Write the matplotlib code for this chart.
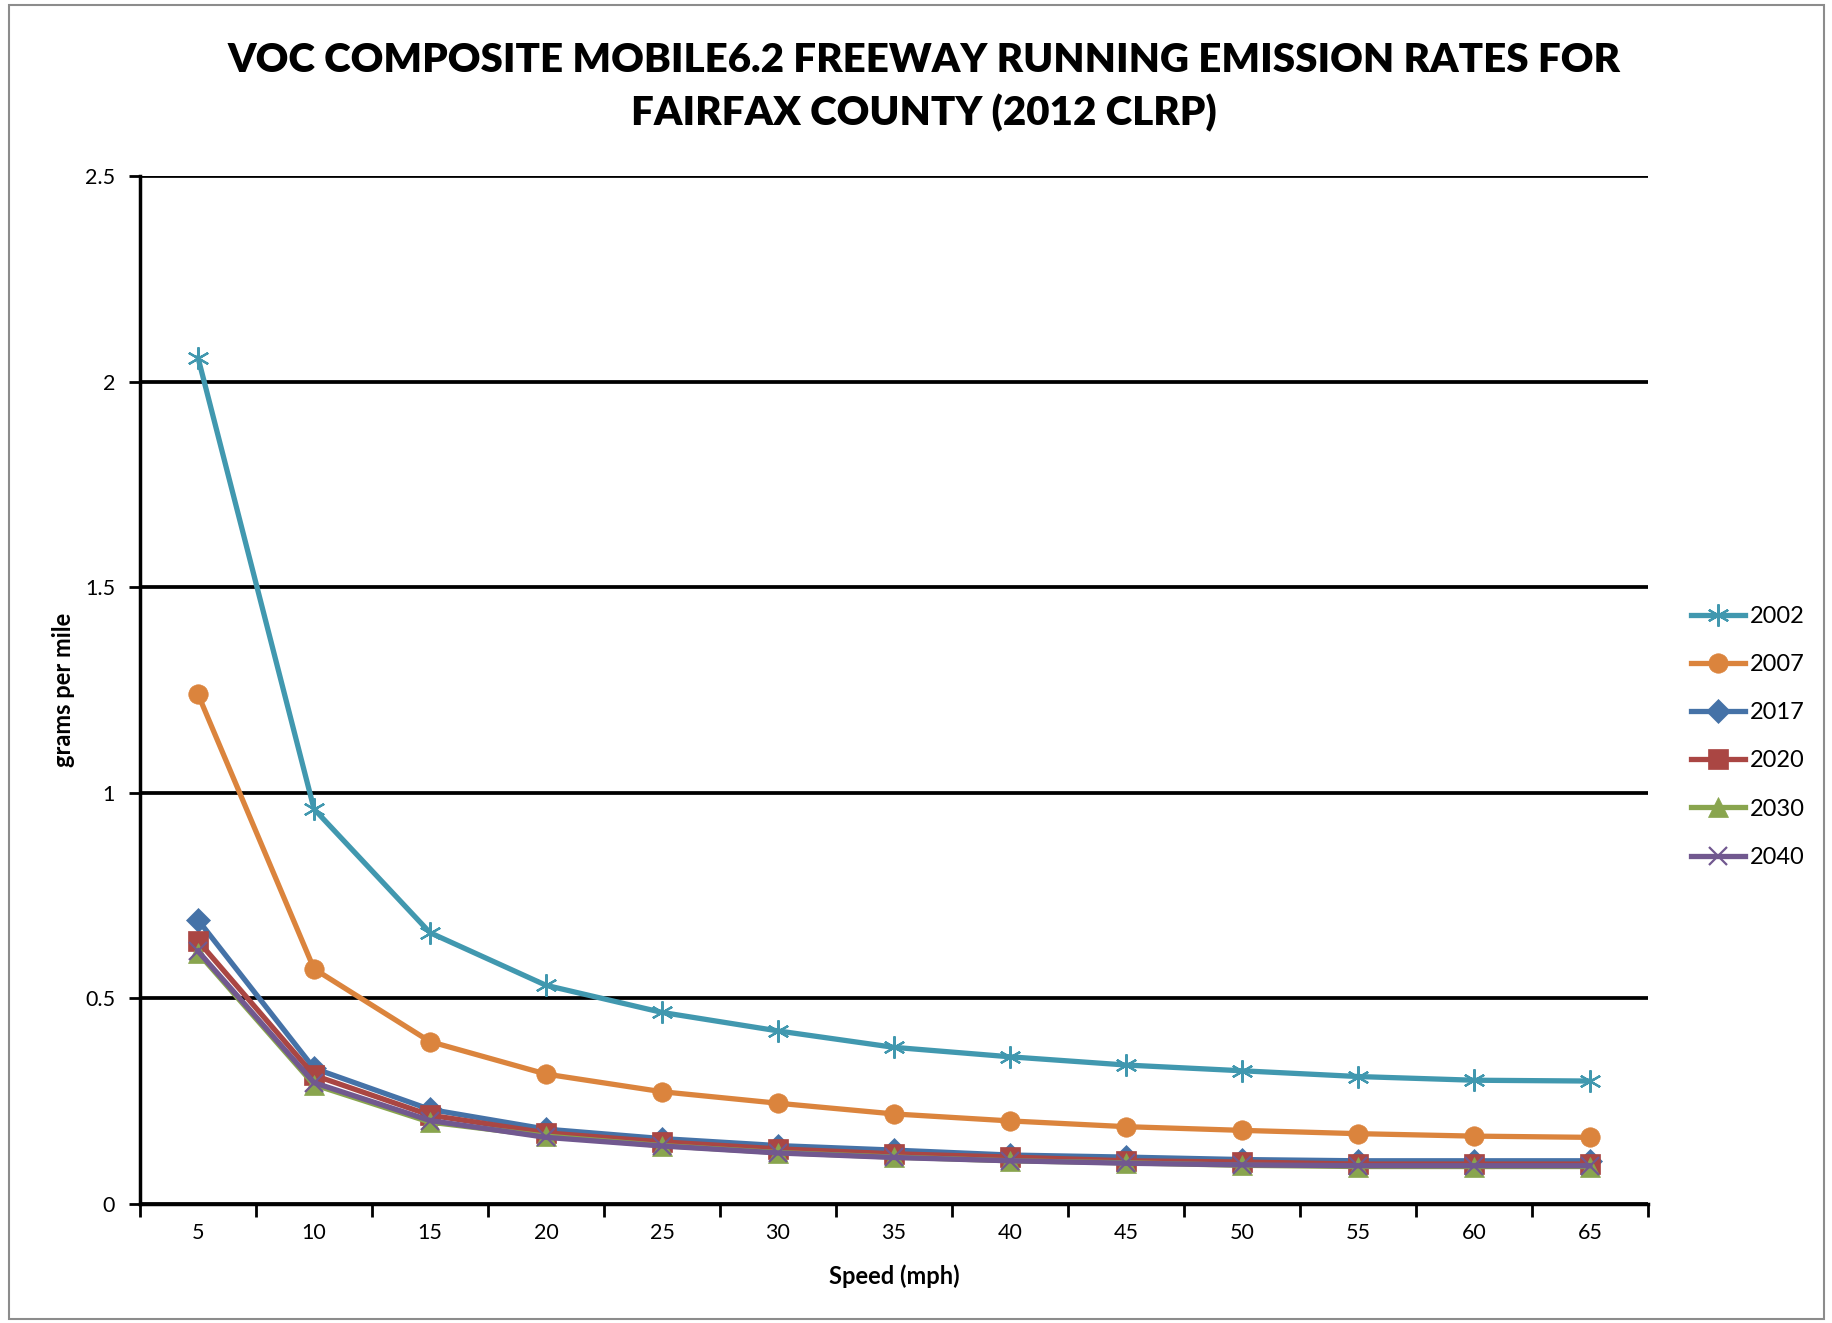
import matplotlib
matplotlib.use('Agg')
import matplotlib.pyplot as plt
from matplotlib.patches import Rectangle

plt.rcParams['font.family'] = ['Lato', 'DejaVu Sans']

speeds = ['5', '10', '15', '20', '25', '30', '35', '40', '45', '50', '55', '60', '65']

years = ['2002', '2007', '2017', '2020', '2030', '2040']
rates_2002 = [2.059, 0.961, 0.660, 0.532, 0.466, 0.421, 0.381, 0.358, 0.338, 0.324, 0.310, 0.301, 0.299]
rates_2007 = [1.240, 0.572, 0.395, 0.316, 0.273, 0.245, 0.219, 0.202, 0.188, 0.179, 0.171, 0.165, 0.162]
rates_2017 = [0.691, 0.330, 0.230, 0.182, 0.159, 0.142, 0.131, 0.119, 0.114, 0.108, 0.105, 0.105, 0.105]
rates_2020 = [0.640, 0.313, 0.216, 0.173, 0.151, 0.134, 0.122, 0.114, 0.105, 0.102, 0.097, 0.097, 0.097]
rates_2030 = [0.611, 0.290, 0.199, 0.165, 0.142, 0.125, 0.114, 0.105, 0.100, 0.094, 0.091, 0.091, 0.091]
rates_2040 = [0.615, 0.295, 0.203, 0.162, 0.141, 0.124, 0.113, 0.105, 0.099, 0.095, 0.093, 0.093, 0.093]

series = [rates_2002, rates_2007, rates_2017, rates_2020, rates_2030, rates_2040]
colors = ['#4198AF', '#DB843D', '#4572A7', '#AA4643', '#89A54E', '#71588F']
markers = [(6, 2, 0), 'o', 'D', 's', '^', 'x']
msizes = [16, 14, 12, 14, 14, 13]

fig = plt.figure(figsize=(18.33, 13.23), dpi=100)
fig.patches.append(Rectangle((0.005, 0.003), 0.99, 0.993, transform=fig.transFigure,
                             fill=False, edgecolor='#8c8c8c', linewidth=1.5))

ax = fig.add_axes([0.0764, 0.090, 0.8226, 0.7766])

x = list(range(len(speeds)))
for yr, vals, c, m, ms in zip(years, series, colors, markers, msizes):
    ax.plot(x, vals, color=c, linewidth=3.8, marker=m, markersize=ms,
            markeredgewidth=1.6 if m in ('x', (6, 2, 0)) else 0.5,
            markeredgecolor=c, markerfacecolor=c, label=yr, zorder=3)

ax.set_xlim(-0.5, len(speeds) - 0.5)
ax.set_ylim(0, 2.5)
ax.set_yticks([0, 0.5, 1, 1.5, 2, 2.5])
ax.set_yticklabels(['0', '0.5', '1', '1.5', '2', '2.5'])
ax.yaxis.grid(True, color='black', linewidth=2.7)
ax.set_axisbelow(True)

# category boundaries as tick marks, labels at centres
ax.set_xticks([i - 0.5 for i in range(len(speeds) + 1)])
ax.set_xticklabels([])
ax.set_xticks(x, minor=True)
ax.set_xticklabels(speeds, minor=True)
ax.tick_params(axis='x', which='major', direction='out', length=9, width=2)
ax.tick_params(axis='x', which='minor', length=0, labelsize=15.5, pad=14)
ax.tick_params(axis='y', direction='out', length=8, width=2, labelsize=15.5, pad=10)

for side in ['top', 'right']:
    ax.spines[side].set_visible(False)
for side in ['left', 'bottom']:
    ax.spines[side].set_linewidth(2.5)

ax.set_xlabel('Speed (mph)', fontsize=17, fontweight='bold', labelpad=15)
ax.set_ylabel('grams per mile', fontsize=17, fontweight='bold', labelpad=7)

fig.text(0.504, 0.934, 'VOC COMPOSITE MOBILE6.2 FREEWAY RUNNING EMISSION RATES FOR\nFAIRFAX COUNTY (2012 CLRP)',
         ha='center', va='center', fontsize=29, fontweight='heavy', linespacing=1.5)

fig.legend(loc='center left', bbox_to_anchor=(0.911, 0.443), frameon=False, fontsize=17,
           handlelength=2.3, labelspacing=1.15, handletextpad=0.2)

fig.savefig('out.png', dpi=100)
